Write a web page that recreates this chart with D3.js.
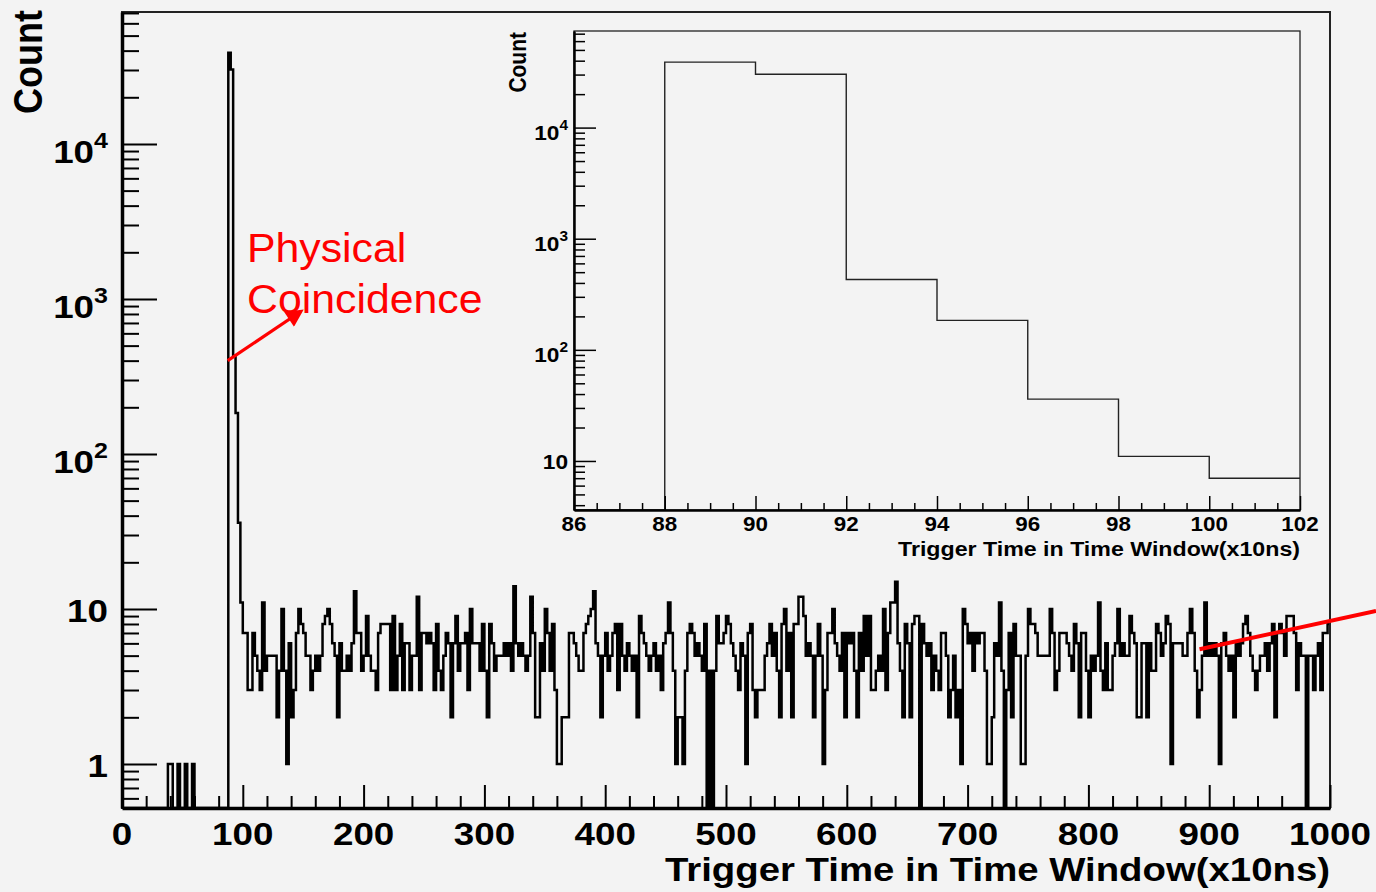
<!DOCTYPE html>
<meta charset="utf-8">
<style>
body {
	margin: 0;
	background: #f3f3f3;
}
svg {
	display: block;
	font-family: "Liberation Sans", Arial, sans-serif;
}
.axis path,
.axis line {
	fill: none;
	stroke: #000;
}
</style>
<body>
<svg width="1376" height="892"></svg>

<script src="https://d3js.org/d3.v7.min.js"></script>
<script>

// histogram: bins of width 2 from 0 to 1000
var binWidth = 2;
var xMax = 1000;

// lone counts before the peak
var earlyBins = [38, 40, 46, 52, 58];
var earlyCounts = [1, 1, 1, 1, 1];

// the coincidence peak (also shown in the inset)
var peakBins = [88, 90, 92, 94, 96, 98, 100];
var peakCounts = [38800, 30200, 430, 184, 36, 11, 7];

// accidental background, bins 102 ... 998
var noiseStart = 102;
var noiseCounts = [
	7,3,3,7,5,4,3,11,4,5,
	5,5,5,2,4,10,4,1,6,2,
	3,7,10,8,7,5,5,3,4,5,
	4,5,8,9,10,8,6,5,2,6,
	4,4,5,4,6,13,7,7,4,5,
	9,5,4,4,3,7,8,8,8,8,
	3,9,3,5,8,3,6,6,3,5,
	5,12,3,7,7,6,7,6,3,8,
	4,3,5,7,6,2,6,9,4,6,
	6,7,3,10,6,6,6,4,8,4,
	2,8,6,4,5,5,5,6,5,6,
	4,14,6,5,6,5,4,5,12,7,
	2,2,6,4,10,7,4,8,3,1,
	1,2,2,2,7,7,6,5,4,4,
	7,8,9,10,13,6,5,2,5,7,
	4,5,7,8,3,8,5,4,6,5,
	4,5,2,9,7,6,5,4,5,6,
	4,5,3,6,7,11,7,4,1,2,
	2,1,4,7,8,7,5,6,5,4,
	8,0,4,0,4,9,6,6,7,9,
	8,6,5,4,3,6,5,1,7,8,
	3,2,3,3,3,5,6,8,5,7,
	4,2,8,10,4,7,2,8,8,12,
	12,9,5,6,5,2,5,8,5,1,
	3,7,7,10,6,5,4,7,2,7,
	6,7,4,2,7,4,9,5,9,3,
	3,4,5,4,10,3,7,11,11,15,
	6,4,2,8,6,2,8,9,9,0,
	8,6,5,6,3,5,4,3,7,7,
	5,2,3,5,2,3,1,10,8,6,
	7,4,7,6,7,7,4,1,1,2,
	6,5,11,4,0,3,7,2,8,5,
	5,1,1,5,10,8,8,7,5,5,
	5,5,5,10,7,3,4,7,7,7,
	6,5,4,8,6,2,7,7,4,2,
	5,4,5,11,4,3,6,3,3,5,
	6,10,5,6,5,5,9,7,6,2,
	2,6,6,2,6,4,4,8,7,5,
	6,9,8,1,6,6,6,6,5,5,
	7,10,7,4,2,3,5,11,5,6,
	5,6,5,1,6,7,5,4,5,2,
	6,5,6,8,9,7,5,4,3,4,
	5,5,6,4,6,8,2,7,8,7,
	5,9,9,9,7,3,6,5,5,0,
	5,5,3,5,6,3,7,7,8
];

var xTicks = [0, 100, 200, 300, 400, 500, 600, 700, 800, 900, 1000];
var yDecades = [1, 10, 100, 1000, 10000];
var yLabels = ["1", "10", "10|2", "10|3", "10|4"];

var insetXTicks = [86, 88, 90, 92, 94, 96, 98, 100, 102];
var insetDecades = [10, 100, 1000, 10000];
var insetYLabels = ["10", "10|2", "10|3", "10|4"];

var xTitle = "Trigger Time in Time Window(x10ns)";
var yTitle = "Count";
var noteLines = ["Physical", "Coincidence"];

// ---- build the full bin table
var bins = d3.range(0, xMax, binWidth);
var counts = bins.map(function() { return 0; });
function put(b, c) { counts[b / binWidth] = c; }
earlyBins.forEach(function(b, i) { put(b, earlyCounts[i]); });
peakBins.forEach(function(b, i) { put(b, peakCounts[i]); });
noiseCounts.forEach(function(c, i) { put(noiseStart + i * binWidth, c); });

var svg = d3.select("svg");
var bg = "#f3f3f3";
var stretch = 1.15;

// main frame
var main = {left: 122, right: 1330, top: 12, bottom: 808};

var x = d3.scaleLinear().domain([0, xMax]).range([main.left, main.right]);
var y = d3.scaleLog().domain([0.52, 71000]).range([main.bottom, main.top]);

function minorLog(dom) {
	var out = [];
	for (var e = -1; e <= 5; e++) {
		for (var m = 2; m <= 9; m++) {
			var v = m * Math.pow(10, e);
			if (v >= dom[0] && v <= dom[1]) out.push(v);
		}
	}
	return out;
}

function stepLine(xs, ys, floor) {
	return d3.line()
		.x(function(d) { return xs(d[0]); })
		.y(function(d) { return d[1] > 0 ? ys(d[1]) : floor; })
		.curve(d3.curveStepAfter);
}

function label(g, px, py, txt, size, anchor, sx) {
	var t = g.append("text")
		.attr("transform", "translate(" + px + "," + py + ") scale(" + sx + ",1)")
		.attr("text-anchor", anchor)
		.attr("font-size", size)
		.attr("font-weight", "bold")
		.attr("fill", "#000");
	var parts = txt.split("|");
	t.append("tspan").text(parts[0]);
	if (parts[1]) {
		t.append("tspan")
			.attr("font-size", size * 0.68)
			.attr("dy", -size * 0.47)
			.text(parts[1]);
	}
	return t;
}

// histogram
var pts = bins.map(function(b, i) { return [b, counts[i]]; });
pts.push([xMax, counts[counts.length - 1]]);

svg.append("clipPath").attr("id", "mainclip")
	.append("rect")
	.attr("x", main.left).attr("y", main.top)
	.attr("width", main.right - main.left).attr("height", main.bottom - main.top);

svg.append("path")
	.attr("clip-path", "url(#mainclip)")
	.attr("d", stepLine(x, y, main.bottom)(pts))
	.attr("fill", "none")
	.attr("stroke", "#000")
	.attr("stroke-width", 2.5);

// frame box
svg.append("rect")
	.attr("x", main.left).attr("y", main.top)
	.attr("width", main.right - main.left).attr("height", main.bottom - main.top)
	.attr("fill", "none")
	.attr("stroke", "#222")
	.attr("stroke-width", 2);

// x axis
var xMinor = d3.range(0, xMax + 1, 20).filter(function(v) { return v % 100 != 0; });
svg.append("g").attr("class", "axis")
	.attr("transform", "translate(0," + main.bottom + ")")
	.call(d3.axisBottom(x).tickValues(xMinor).tickSizeInner(-12).tickSizeOuter(0).tickFormat(""))
	.call(function(g) { g.selectAll("line").attr("stroke-width", 2); });
svg.append("g").attr("class", "axis")
	.attr("transform", "translate(0," + main.bottom + ")")
	.call(d3.axisBottom(x).tickValues(xTicks).tickSizeInner(-23).tickSizeOuter(0).tickFormat(""))
	.call(function(g) {
		g.selectAll("line").attr("stroke-width", 2);
		g.select(".domain").attr("stroke-width", 3.5);
	});

// y axis
svg.append("g").attr("class", "axis")
	.attr("transform", "translate(" + main.left + ",0)")
	.call(d3.axisLeft(y).tickValues(minorLog(y.domain())).tickSizeInner(-17).tickSizeOuter(0).tickFormat(""))
	.call(function(g) { g.selectAll("line").attr("stroke-width", 2); });
svg.append("g").attr("class", "axis")
	.attr("transform", "translate(" + main.left + ",0)")
	.call(d3.axisLeft(y).tickValues(yDecades).tickSizeInner(-35).tickSizeOuter(0).tickFormat(""))
	.call(function(g) {
		g.selectAll("line").attr("stroke-width", 2);
		g.select(".domain").attr("stroke-width", 3.5);
	});

var labels = svg.append("g");
xTicks.forEach(function(v) {
	label(labels, x(v), 845, String(v), 32, "middle", stretch);
});
yDecades.forEach(function(v, i) {
	var sup = yLabels[i].indexOf("|") >= 0;
	label(labels, 108, y(v) + (sup ? 19 : 13), yLabels[i], 32, "end", stretch);
});

labels.append("text")
	.attr("x", main.right).attr("y", 881)
	.attr("text-anchor", "end")
	.attr("font-size", 33)
	.attr("font-weight", "bold")
	.attr("textLength", 665)
	.attr("lengthAdjust", "spacingAndGlyphs")
	.text(xTitle);

labels.append("text")
	.attr("transform", "translate(42,10) rotate(-90) scale(1," + stretch + ")")
	.attr("text-anchor", "end")
	.attr("font-size", 36)
	.attr("font-weight", "bold")
	.text(yTitle);

// ---- inset
var ins = {left: 574, right: 1300, top: 31, bottom: 510};
var xi = d3.scaleLinear().domain([86, 102]).range([ins.left, ins.right]);
var yi = d3.scaleLog().domain([3.62, 74000]).range([ins.bottom, ins.top]);

var inset = svg.append("g");
inset.append("rect")
	.attr("x", ins.left).attr("y", ins.top)
	.attr("width", ins.right - ins.left).attr("height", ins.bottom - ins.top)
	.attr("fill", bg)
	.attr("stroke", "#222")
	.attr("stroke-width", 1.3);

var ipts = [[86, 0]];
peakBins.forEach(function(b, i) { ipts.push([b, peakCounts[i]]); });
ipts.push([102, peakCounts[peakCounts.length - 1]]);
inset.append("path")
	.attr("d", stepLine(xi, yi, ins.bottom)(ipts))
	.attr("fill", "none")
	.attr("stroke", "#222")
	.attr("stroke-width", 1.4);

var xiMinor = d3.range(86, 102.01, 0.5).filter(function(v) { return v % 2 != 0; });
inset.append("g").attr("class", "axis")
	.attr("transform", "translate(0," + ins.bottom + ")")
	.call(d3.axisBottom(xi).tickValues(xiMinor).tickSizeInner(-7).tickSizeOuter(0).tickFormat(""))
	.call(function(g) { g.selectAll("line").attr("stroke-width", 1.5); });
inset.append("g").attr("class", "axis")
	.attr("transform", "translate(0," + ins.bottom + ")")
	.call(d3.axisBottom(xi).tickValues(insetXTicks).tickSizeInner(-14).tickSizeOuter(0).tickFormat(""))
	.call(function(g) {
		g.selectAll("line").attr("stroke-width", 1.5);
		g.select(".domain").attr("stroke-width", 2.5);
	});
inset.append("g").attr("class", "axis")
	.attr("transform", "translate(" + ins.left + ",0)")
	.call(d3.axisLeft(yi).tickValues(minorLog(yi.domain())).tickSizeInner(-11).tickSizeOuter(0).tickFormat(""))
	.call(function(g) { g.selectAll("line").attr("stroke-width", 1.5); });
inset.append("g").attr("class", "axis")
	.attr("transform", "translate(" + ins.left + ",0)")
	.call(d3.axisLeft(yi).tickValues(insetDecades).tickSizeInner(-22).tickSizeOuter(0).tickFormat(""))
	.call(function(g) {
		g.selectAll("line").attr("stroke-width", 1.5);
		g.select(".domain").attr("stroke-width", 2.5);
	});

insetXTicks.forEach(function(v) {
	label(inset, xi(v), 531, String(v), 20, "middle", 1.12);
});
insetDecades.forEach(function(v, i) {
	var sup = insetYLabels[i].indexOf("|") >= 0;
	label(inset, 568, yi(v) + (sup ? 12 : 8), insetYLabels[i], 21, "end", 1.08);
});
inset.append("text")
	.attr("x", ins.right).attr("y", 556)
	.attr("text-anchor", "end")
	.attr("font-size", 20)
	.attr("font-weight", "bold")
	.attr("textLength", 402)
	.attr("lengthAdjust", "spacingAndGlyphs")
	.text(xTitle);
inset.append("text")
	.attr("transform", "translate(526,32) rotate(-90) scale(1," + stretch + ")")
	.attr("text-anchor", "end")
	.attr("font-size", 21)
	.attr("font-weight", "bold")
	.text(yTitle);

// ---- red annotation
var red = "#ff0000";
svg.append("defs").append("marker")
	.attr("id", "head")
	.attr("viewBox", "0 0 10 10")
	.attr("refX", 8).attr("refY", 5)
	.attr("markerWidth", 6.5).attr("markerHeight", 5.5)
	.attr("orient", "auto")
	.append("path")
	.attr("d", "M0,0L10,5L0,10Z")
	.attr("fill", red);

noteLines.forEach(function(s, i) {
	svg.append("text")
		.attr("transform", "translate(247," + (262 + i * 51) + ") scale(1.07,1)")
		.attr("font-size", 40)
		.attr("fill", red)
		.text(s);
});

// arrow from the peak toward the note
svg.append("line")
	.attr("x1", x(87.5)).attr("y1", y(400))
	.attr("x2", x(148)).attr("y2", y(830))
	.attr("stroke", red)
	.attr("stroke-width", 3.2)
	.attr("marker-end", "url(#head)");

// pointer line on the background
svg.append("line")
	.attr("x1", x(892)).attr("y1", y(5.5))
	.attr("x2", 1376).attr("y2", y(9.7))
	.attr("stroke", red)
	.attr("stroke-width", 4);

</script>
</body>
